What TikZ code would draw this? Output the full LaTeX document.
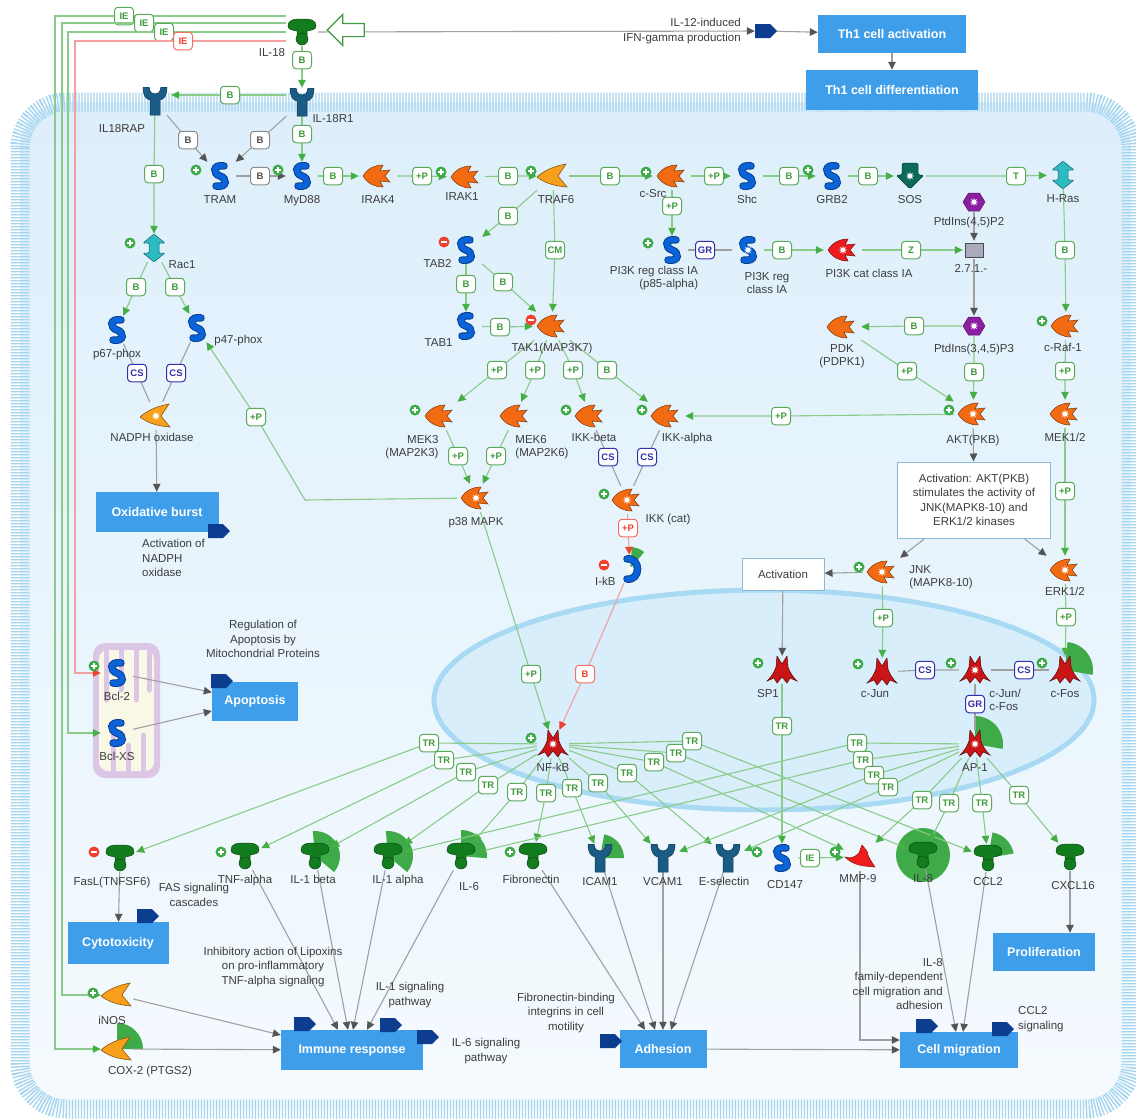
\documentclass[tikz,border=0pt]{standalone}
\usepackage{fontspec}
\setmainfont{Liberation Sans}
\usepackage{tikz}
\usetikzlibrary{arrows.meta,positioning,shapes.arrows,calc}

\definecolor{kinorange}{HTML}{F26B12}
\definecolor{ligorange}{HTML}{F8A01C}
\definecolor{protblue}{HTML}{0B63DA}
\definecolor{recblue}{HTML}{1B5C86}
\definecolor{ligreen}{HTML}{127C1E}
\definecolor{gtpteal}{HTML}{2DBAC0}
\definecolor{sosgreen}{HTML}{0C6A5A}
\definecolor{lipidpurple}{HTML}{8C1EA2}
\definecolor{enzgrey}{HTML}{A9AABE}
\definecolor{tfred}{HTML}{C91515}
\definecolor{protred}{HTML}{EE1C1C}
\definecolor{procblue}{HTML}{3E9EEA}
\definecolor{tagnavy}{HTML}{0D3D8E}
\definecolor{edgegreen}{HTML}{8ACB8A}
\definecolor{tipgreen}{HTML}{45AE45}
\definecolor{labgreen}{HTML}{3E9B3E}
\definecolor{edgegrey}{HTML}{A0A0A0}
\definecolor{tipgrey}{HTML}{555555}
\definecolor{edgered}{HTML}{F3A0A0}
\definecolor{tipred}{HTML}{F0402E}
\definecolor{cplxblue}{HTML}{3030A8}
\definecolor{textgrey}{HTML}{3C3C3C}
\definecolor{cellblue}{HTML}{DDEFFB}
\definecolor{membrane}{HTML}{A6D5F0}
\definecolor{nucblue}{HTML}{A8DAF3}
\definecolor{wedgegreen}{HTML}{3FAA48}
\definecolor{mitolilac}{HTML}{DCC6E6}
\definecolor{mitocream}{HTML}{F9F7E6}
\definecolor{boxedge}{HTML}{8DB8D6}

\pgfdeclarelayer{bg}
\pgfdeclarelayer{edges}
\pgfsetlayers{bg,edges,main}

% glyphs, drawn inside the (invisible) node box with path picture
\newcommand\burst{%
  \fill[white] (0:4.2pt) \foreach \a in {45,90,...,315}{ -- (\a-22.5:1.9pt) -- (\a:4.2pt)} -- (337.5:1.9pt) -- cycle;}
\newcommand\kinaseglyph[2]{%
  \begin{scope}[shift={(path picture bounding box.center)}, scale=1.2]
    \filldraw[fill=#1, draw=#1!50!black, line width=.5pt]
      (-15,0) .. controls (-10,-8) and (-3,-11) .. (5,-11) -- (2,-5) -- (12,-6)
      -- (7,0) -- (12,6) -- (2,5) -- (5,11) .. controls (-3,11) and (-10,8) .. cycle;
    #2
  \end{scope}}
\newcommand\ligaseglyph[1]{%
  \begin{scope}[shift={(path picture bounding box.center)}]
    \filldraw[fill=ligorange, draw=ligorange!55!black, line width=.6pt]
      (-16,1) .. controls (-7,-7) and (3,-10) .. (13,-12) -- (5,0) -- (14,11)
      .. controls (3,10) and (-7,8) .. cycle;
    #1
  \end{scope}}
\newcommand\proteinglyph[1]{%
  \begin{scope}[shift={(path picture bounding box.center)}, line cap=round]
    \draw[protblue!65!black, line width=7.5pt]
      (4,-10) .. controls (-8,-12) and (-7,-2) .. (0,0) .. controls (7,2) and (8,12) .. (-4,10);
    \draw[protblue, line width=5.5pt]
      (4,-10) .. controls (-8,-12) and (-7,-2) .. (0,0) .. controls (7,2) and (8,12) .. (-4,10);
    #1
  \end{scope}}
\newcommand\ikbglyph{%
  \begin{scope}[shift={(path picture bounding box.center)}, line cap=round]
    \draw[protblue!65!black, line width=7.5pt] (-3,-10) .. controls (11,-12) and (11,12) .. (-3,10);
    \draw[protblue, line width=5.5pt] (-3,-10) .. controls (11,-12) and (11,12) .. (-3,10);
    \begin{scope}[shift={(4,0)}]\burst\end{scope}
  \end{scope}}
\newcommand\receptorglyph{%
  \begin{scope}[shift={(path picture bounding box.center)}]
    \filldraw[fill=recblue, draw=recblue!60!black, line width=.5pt]
      (-12,-14) -- (-6,-14) .. controls (-5,-8) and (-3,-7) .. (0,-7) .. controls (3,-7) and (5,-8) .. (6,-14)
      -- (12,-14) .. controls (12,-5) and (9,-2) .. (5,-1) -- (5,14) -- (-5,14) -- (-5,-1)
      .. controls (-9,-2) and (-12,-5) .. cycle;
  \end{scope}}
\newcommand\ligandglyph{%
  \begin{scope}[shift={(path picture bounding box.center)}]
    \filldraw[fill=ligreen, draw=ligreen!60!black, line width=.5pt]
      (-14,-6) .. controls (-14,-12) and (-9,-13) .. (0,-13) .. controls (9,-13) and (14,-12) .. (14,-6)
      .. controls (14,-2) and (9,-2) .. (5,-1) -- (5,3) -- (-5,3) -- (-5,-1)
      .. controls (-9,-2) and (-14,-2) .. cycle;
    \filldraw[fill=ligreen, draw=ligreen!60!black, line width=.5pt] (0,7) circle[radius=6pt];
  \end{scope}}
\newcommand\gtpglyph{%
  \begin{scope}[shift={(path picture bounding box.center)}]
    \filldraw[fill=gtpteal, draw=gtpteal!55!black, line width=.5pt, rounded corners=1pt]
      (0,-14) -- (11,-5) -- (5,-5) -- (5,5) -- (11,5) -- (0,14) -- (-11,5) -- (-5,5) -- (-5,-5) -- (-11,-5) -- cycle;
  \end{scope}}
\newcommand\sosglyph{%
  \begin{scope}[shift={(path picture bounding box.center)}]
    \filldraw[fill=sosgreen, draw=sosgreen!60!black, line width=.5pt, rounded corners=1.5pt]
      (-8,-13) -- (8,-13) -- (8,-1) -- (14,-1) -- (0,13) -- (-14,-1) -- (-8,-1) -- cycle;
    \begin{scope}[shift={(0,-3)}]\burst\end{scope}
  \end{scope}}
\newcommand\lipidglyph{%
  \begin{scope}[shift={(path picture bounding box.center)}]
    \filldraw[fill=lipidpurple, draw=lipidpurple!60!black, line width=.5pt]
      (-11,0) -- (-5.5,-9) -- (5.5,-9) -- (11,0) -- (5.5,9) -- (-5.5,9) -- cycle;
    \burst
  \end{scope}}
\newcommand\squareglyph{%
  \begin{scope}[shift={(path picture bounding box.center)}]
    \filldraw[fill=enzgrey, draw=black!70, line width=.7pt] (-9,-7) rectangle (9,7);
  \end{scope}}
\newcommand\tfglyph[1]{%
  \begin{scope}[shift={(path picture bounding box.center)}]
    \filldraw[fill=tfred, draw=tfred!45!black, line width=.5pt]
      (-5,-14) -- (0,-6) -- (5,-14) -- (6,-3) .. controls (8,3) and (11,7) .. (15,11) -- (8,8) -- (5,13)
      -- (0,7) -- (-5,13) -- (-8,8) -- (-15,11) .. controls (-11,7) and (-8,3) .. (-6,-3) -- cycle;
    \begin{scope}[shift={(0,1)}]#1\end{scope}
  \end{scope}}
\newcommand\proteaseglyph{%
  \begin{scope}[shift={(path picture bounding box.center)}]
    \filldraw[fill=protred, draw=protred!60!black, line width=.5pt]
      (-15,0) .. controls (-9,2) and (-5,0) .. (-1,-4) -- (2,-12) .. controls (5,-8) and (8,-6) .. (8,-2)
      .. controls (10,3) and (13,7) .. (15,10) .. controls (4,9) and (-6,9) .. cycle;
  \end{scope}}
\newcommand\tagglyph{%
  \begin{scope}[shift={(path picture bounding box.center)}]
    \fill[tagnavy] (-11,-7) -- (4,-7) -- (11,0) -- (4,7) -- (-11,7) -- cycle;
  \end{scope}}

\begin{document}
\begin{tikzpicture}[x=1pt, y=-1pt,
  font=\fontsize{11.5}{13}\selectfont,
  every label/.style={text=textgrey, inner sep=1pt},
  label distance=4pt,
  mol/.style={minimum width=32pt, minimum height=28pt, inner sep=0pt},
  ligand/.style={mol, path picture={\ligandglyph}},
  receptor/.style={mol, path picture={\receptorglyph}},
  protein/.style={mol, path picture={\proteinglyph{}}},
  proteinstar/.style={mol, path picture={\proteinglyph{\burst}}},
  inhibitor/.style={mol, path picture={\ikbglyph}},
  kinase/.style={mol, minimum width=38pt, path picture={\kinaseglyph{kinorange}{}}},
  kinasestar/.style={mol, minimum width=38pt, path picture={\kinaseglyph{kinorange}{\burst}}},
  kinasered/.style={mol, minimum width=38pt, path picture={\kinaseglyph{protred}{\burst}}},
  ligase/.style={mol, path picture={\ligaseglyph{}}},
  ligasestar/.style={mol, path picture={\ligaseglyph{\burst}}},
  gtpase/.style={mol, path picture={\gtpglyph}},
  gef/.style={mol, path picture={\sosglyph}},
  lipid/.style={mol, minimum width=24pt, minimum height=20pt, path picture={\lipidglyph}},
  enzyme/.style={mol, minimum width=22pt, minimum height=18pt, path picture={\squareglyph}},
  tf/.style={mol, path picture={\tfglyph{}}},
  tfstar/.style={mol, path picture={\tfglyph{\burst}}},
  protease/.style={mol, path picture={\proteaseglyph}},
  tag/.style={minimum width=22pt, minimum height=16pt, inner sep=0pt, path picture={\tagglyph}},
  gline/.style={draw=edgegreen, line width=1.1pt},
  gact/.style={gline, -{Triangle[length=8pt, width=7.5pt, color=tipgreen]}},
  yline/.style={draw=edgegrey, line width=1.1pt},
  yact/.style={yline, -{Triangle[length=8pt, width=7.5pt, color=tipgrey]}},
  ract/.style={draw=edgered, line width=1.1pt, -{Triangle[length=8pt, width=7.5pt, color=tipred]}},
  lb/.style={draw=labgreen!85, fill=white, line width=1pt, rounded corners=3.5pt,
    text=labgreen, font=\bfseries\fontsize{9.5}{10}\selectfont,
    minimum width=19pt, minimum height=17.5pt, inner sep=1pt},
  lbgrey/.style={lb, draw=black!45, text=black!70},
  lbred/.style={lb, draw=tipred!75, text=tipred},
  lbcplx/.style={lb, draw=cplxblue, text=cplxblue},
  procbox/.style={fill=procblue, text=white, font=\bfseries\fontsize{12.5}{14}\selectfont, inner sep=0pt},
  infobox/.style={draw=boxedge, fill=white, line width=1pt, align=center, text=textgrey,
    font=\fontsize{11.5}{14.5}\selectfont},
  note/.style={text=textgrey, align=center, font=\fontsize{11.5}{14.5}\selectfont, inner sep=0pt},
  actmark/.pic={\fill[wedgegreen] (0,0) circle[radius=5.5pt];
    \draw[white, line width=1.1pt] (-3pt,0) -- (3pt,0) (0,-3pt) -- (0,3pt);},
  inhmark/.pic={\fill[tipred] (0,0) circle[radius=5.5pt];
    \draw[white, line width=1.3pt] (-3pt,0) -- (3pt,0);}
]
\useasboundingbox (0,0) rectangle (1136,1119);

% ---------------- IL-18 and the Th1 branch ----------------
\node[ligand, label={[xshift=-30pt,yshift=3pt]below:IL-18}] (il18) at (302,32) {};
\node[single arrow, shape border rotate=180, draw=labgreen, fill=white, line width=1.2pt,
  minimum height=37pt, inner sep=6pt, single arrow head extend=9pt] (inflow) at (349,30) {};
\node[tag] (tagil) at (766,31) {};
\node[note, align=right, anchor=east] (il12note) at (741,31) {IL-12-induced\\IFN-gamma production};
\node[procbox, minimum width=148pt, minimum height=38pt] (th1act) at (892,34) {Th1 cell activation};
\node[procbox, minimum width=172pt, minimum height=40pt] (th1dif) at (892,90) {Th1 cell differentiation};

% ---------------- receptors and adaptors ----------------
\node[receptor, label={[xshift=31pt,yshift=7pt]below:IL-18R1}] (il18r1) at (302,102) {};
\node[receptor, label={[xshift=-33pt,yshift=-4pt]below:IL18RAP}] (il18rap) at (155,101) {};
\node[protein, label=below:TRAM] (tram) at (220,176) {};
\node[protein, label=below:MyD88] (myd88) at (302,176) {};
\node[kinase, label=below:IRAK4] (irak4) at (378,176) {};
\node[kinase, label={[xshift=-4pt,yshift=4pt]below:IRAK1}] (irak1) at (466,177) {};
\node[ligase, label={[xshift=3pt]below:TRAF6}] (traf6) at (553,176) {};
\node[kinase, label={[xshift=-19pt,yshift=6pt]below:c-Src}] (csrc) at (672,176) {};
\node[protein, label=below:Shc] (shc) at (747,176) {};
\node[protein, label=below:GRB2] (grb2) at (832,176) {};
\node[gef, label=below:SOS] (sos) at (910,176) {};
\node[gtpase, label=below:H-Ras] (hras) at (1063,175) {};

% ---------------- PI3K / AKT ----------------
\node[protein, label={[align=right,xshift=-18pt,yshift=3pt]below:PI3K reg class IA\\(p85-alpha)}] (pi3kreg) at (672,250) {};
\node[proteinstar, label={[align=center,xshift=19pt,yshift=-3pt]below:PI3K reg\\class IA}] (pi3kreg2) at (748,250) {};
\node[kinasered, label={[xshift=26pt]below:PI3K cat class IA}] (pi3kcat) at (843,250) {};
\node[lipid, label={[xshift=-5pt]below:PtdIns(4,5)P2}] (pip2) at (974,202) {};
\node[enzyme, label={[xshift=-3pt]below:2.7.1.-}] (ek) at (974,250) {};
\node[lipid, label={[yshift=-3pt]below:PtdIns(3,4,5)P3}] (pip3) at (974,326) {};
\node[kinase, label={[align=center,yshift=2pt]below:PDK\\(PDPK1)}] (pdk) at (842,327) {};
\node[kinase, label={[xshift=-3pt,yshift=2pt]below:c-Raf-1}] (craf) at (1066,326) {};
\node[kinasestar, label={[yshift=-2pt]below:AKT(PKB)}] (akt) at (973,414) {};
\node[kinasestar, label=below:MEK1/2] (mek12) at (1065,414) {};
\node[infobox, minimum width=153pt, minimum height=76pt] (akttext) at (974,500)
  {Activation: AKT(PKB)\\stimulates the activity of\\JNK(MAPK8-10) and\\ERK1/2 kinases};
\node[kinasestar, label={[align=left,xshift=3pt,yshift=-5pt]right:JNK\\(MAPK8-10)}] (jnk) at (882,572) {};
\node[kinasestar, label={[yshift=2pt]below:ERK1/2}] (erk) at (1065,570) {};
\node[infobox, minimum width=82pt, minimum height=32pt] (actbox) at (783,574) {Activation};

% ---------------- TAK1 / IKK / p38 ----------------
\node[protein, label={[xshift=7pt,yshift=-13pt]left:TAB2}] (tab2) at (466,250) {};
\node[protein, label={[xshift=8pt,yshift=-17pt]left:TAB1}] (tab1) at (466,326) {};
\node[kinase, label={[yshift=2pt]below:TAK1(MAP3K7)}] (tak1) at (552,326) {};
\node[kinase, label={[align=right,xshift=-28pt]below:MEK3\\(MAP2K3)}] (mek3) at (440,416) {};
\node[kinase, label={[align=left,xshift=27pt]below:MEK6\\(MAP2K6)}] (mek6) at (515,416) {};
\node[kinase, label={[xshift=4pt,yshift=2pt]below:IKK-beta}] (ikkb) at (590,416) {};
\node[kinase, label={[xshift=21pt,yshift=2pt]below:IKK-alpha}] (ikka) at (666,416) {};
\node[kinasestar, label=below:p38 MAPK] (p38) at (476,498) {};
\node[kinasestar, label={[xshift=41pt,yshift=5pt]below:IKK (cat)}] (ikkc) at (627,500) {};
\node[inhibitor, label={[xshift=7pt,yshift=-12pt]left:I-kB}] (ikb) at (630,569) {};

% ---------------- Rac1 / NADPH oxidase ----------------
\node[gtpase, label={[xshift=28pt,yshift=7pt]below:Rac1}] (rac1) at (154,248) {};
\node[protein, label=below:p67-phox] (p67) at (117,330) {};
\node[protein, label={[xshift=-4pt,yshift=-13pt]right:p47-phox}] (p47) at (197,328) {};
\node[ligasestar, label={[xshift=-4pt,yshift=2pt]below:NADPH oxidase}] (nadph) at (156,416) {};
\node[procbox, minimum width=123pt, minimum height=40pt] (oxb) at (157,512) {Oxidative burst};
\node[tag] (tagox) at (219,531) {};
\node[note, align=left, anchor=north west] (oxnote) at (142,539) {Activation of\\NADPH\\oxidase};

% ---------------- mitochondrion ----------------
\node[protein, label=below:Bcl-2] (bcl2) at (117,673) {};
\node[protein, label=below:Bcl-XS] (bclxs) at (117,733) {};
\node[procbox, minimum width=86pt, minimum height=39pt] (apop) at (255,701) {Apoptosis};
\node[tag] (tagap) at (222,681) {};
\node[note] (apnote) at (263,639) {Regulation of\\Apoptosis by\\Mitochondrial Proteins};

% ---------------- nucleus ----------------
\node[tf, label={[xshift=-14pt]below:SP1}] (sp1) at (782,670) {};
\node[tf, label={[xshift=-7pt,yshift=2pt]below:c-Jun}] (cjun) at (882,672) {};
\node[tfstar, label={[align=left,xshift=-7pt,yshift=-30pt]right:c-Jun/\\c-Fos}] (cjf) at (975,670) {};
\node[tf, label=below:c-Fos] (cfos) at (1065,670) {};
\node[tfstar, label=below:AP-1] (ap1) at (975,744) {};
\node[tfstar, label=below:NF-kB] (nfkb) at (553,744) {};

% ---------------- target genes ----------------
\node[ligand, label={[xshift=-8pt]below:FasL(TNFSF6)}] (fasl) at (120,858) {};
\node[ligand, label=below:TNF-alpha] (tnfa) at (245,856) {};
\node[ligand, label={[xshift=-2pt]below:IL-1 beta}] (il1b) at (315,856) {};
\node[ligand, label={[xshift=10pt]below:IL-1 alpha}] (il1a) at (388,856) {};
\node[ligand, label={[xshift=8pt,yshift=-7pt]below:IL-6}] (il6) at (461,856) {};
\node[ligand, label={[xshift=-2pt]below:Fibronectin}] (fn) at (533,856) {};
\node[receptor, label=below:ICAM1] (icam) at (600,858) {};
\node[receptor, label=below:VCAM1] (vcam) at (663,858) {};
\node[receptor, label={[xshift=-4pt]below:E-selectin}] (esel) at (728,858) {};
\node[protein, label={[xshift=3pt,yshift=-3pt]below:CD147}] (cd147) at (782,858) {};
\node[protease, label={[xshift=-2pt,yshift=2pt]below:MMP-9}] (mmp9) at (860,857) {};
\node[ligand, label=below:IL-8] (il8) at (923,855) {};
\node[ligand, label=below:CCL2] (ccl2) at (988,858) {};
\node[ligand, label={[xshift=3pt,yshift=-5pt]below:CXCL16}] (cxcl16) at (1070,857) {};
\node[ligase, label={[xshift=-5pt,yshift=-2pt]below:iNOS}] (inos) at (117,995) {};
\node[ligase, label={[xshift=33pt,yshift=2pt]below:COX-2 (PTGS2)}] (cox2) at (117,1049) {};

% ---------------- cell processes ----------------
\node[procbox, minimum width=101pt, minimum height=42pt] (cytox) at (118,943) {Cytotoxicity};
\node[procbox, minimum width=142pt, minimum height=40pt] (immune) at (352,1050) {Immune response};
\node[procbox, minimum width=87pt, minimum height=38pt] (adhes) at (663,1049) {Adhesion};
\node[procbox, minimum width=118pt, minimum height=36pt] (cellmig) at (959,1050) {Cell migration};
\node[procbox, minimum width=102pt, minimum height=38pt] (prolif) at (1044,952) {Proliferation};
\node[tag] (tagcy) at (148,916) {};
\node[tag] (tagim1) at (305,1024) {};
\node[tag] (tagim2) at (391,1025) {};
\node[tag] (tagim3) at (428,1037) {};
\node[tag] (tagad) at (611,1041) {};
\node[tag] (tagcm1) at (927,1026) {};
\node[tag] (tagcm2) at (1003,1029) {};
\node[note] (fasnote) at (194,895) {FAS signaling\\cascades};
\node[note] (lipnote) at (273,967) {Inhibitory action of Lipoxins\\on pro-inflammatory\\TNF-alpha signaling};
\node[note] (il1note) at (410,995) {IL-1 signaling\\pathway};
\node[note] (il6note) at (486,1051) {IL-6 signaling\\pathway};
\node[note] (fnnote) at (566,1013) {Fibronectin-binding\\integrins in cell\\motility};
\node[note, align=right, anchor=east] (il8note) at (943,984) {IL-8\\family-dependent\\cell migration and\\adhesion};
\node[note, align=left, anchor=west] (cclnote) at (1018,1019) {CCL2\\signaling};

% activation / inhibition marks
\foreach \p in {(196,170),(278,170),(130,243),(441,172),(531,171),(646,172),(808,170),(648,243),
  (1042,321),(949,410),(415,410),(566,410),(642,410),(604,494),(859,567),(758,663),(858,664),
  (951,663),(1042,663),(531,738),(94,666),(93,993),(221,852),(510,852),(757,852),(835,852)}
  \pic at \p {actmark};
\foreach \p in {(444,242),(531,320),(604,565),(94,852)}
  \pic at \p {inhmark};

\begin{pgfonlayer}{edges}
% IL-18 signalling
\draw[yact] (il18) -- (tagil);
\draw[yact] (tagil) -- (th1act);
\draw[yact] (th1act) -- (th1dif);
\draw[gact] ([yshift=16pt]il18.west) -- (124,16) node[lb]{IE} -- (55,16) |- (cox2);
\draw[gact] ([yshift=9pt]il18.west) -- (144,23) node[lb]{IE} -- (62,23) |- (inos);
\draw[gact] (il18.west) -- (164,32) node[lb]{IE} -- (68,32) |- (bclxs);
\draw[ract] ([yshift=-9pt]il18.west) -- (183,41) node[lbred]{IE} -- (75,41) |- (bcl2);
\draw[gact] (il18) -- (302,60) node[lb]{B} -- (il18r1);
\draw[gact] ([yshift=7pt]il18r1.west) -- (230,95) node[lb]{B} -- ([yshift=6pt]il18rap.east);
\draw[yact] (il18rap) -- (188,140) node[lbgrey]{B} -- (tram);
\draw[yact] (il18r1) -- (260,140) node[lbgrey]{B} -- (tram);
\draw[yact] (tram) -- (260,176) node[lbgrey]{B} -- (myd88);
\draw[gact] (il18r1) -- (302,134) node[lb]{B} -- (myd88);
\draw[gact] (myd88) -- (333,176) node[lb]{B} -- (irak4);
\draw[gact] (irak4) -- (422,176) node[lb]{+P} -- (irak1);
\draw[gact] (irak1) -- (508,176) node[lb]{B} -- (traf6);
\draw[gact] (traf6) -- (610,176) node[lb]{B} -- (csrc);
\draw[gact] (csrc) -- (714,176) node[lb]{+P} -- (shc);
\draw[gact] (shc) -- (789,176) node[lb]{B} -- (grb2);
\draw[gact] (grb2) -- (868,176) node[lb]{B} -- (sos);
\draw[gact] (sos) -- (1016,176) node[lb]{T} -- (hras);
% PI3K / AKT
\draw[gact] (csrc) -- (672,206) node[lb]{+P} -- (pi3kreg);
\draw[yline] (pi3kreg) -- (705,250) node[lbcplx]{GR} -- (pi3kreg2);
\draw[gact] (pi3kreg2) -- (782,250) node[lb]{B} -- (pi3kcat);
\draw[gact] (pi3kcat) -- (911,250) node[lb]{Z} -- (ek);
\draw[yact] (pip2) -- (ek);
\draw[yact] (ek) -- (pip3);
\draw[gact] (pip3) -- (914,326) node[lb]{B} -- (pdk);
\draw[gact] (hras) -- (1065,250) node[lb]{B} -- (craf);
\draw[gact] (pdk) -- (907,371) node[lb]{+P} -- (akt);
\draw[gact] (pip3) -- (974,372) node[lb]{B} -- (akt);
\draw[gact] (craf) -- (1065,371) node[lb]{+P} -- (mek12);
\draw[gact] (akt) -- (781,416) node[lb]{+P} -- (ikka);
\draw[yact] (akt) -- (akttext);
\draw[yact] (akttext) -- (jnk);
\draw[yact] (akttext) -- (erk);
\draw[gact] (mek12) -- (1065,491) node[lb]{+P} -- (erk);
\draw[yact] (jnk) -- (actbox);
\draw[yact] (actbox) -- (sp1);
\draw[gact] (jnk) -- (883,618) node[lb]{+P} -- (cjun);
\draw[gact] (erk) -- (1066,617) node[lb]{+P} -- (cfos);
\draw[yline] (cjun) -- (925,670) node[lbcplx]{CS} -- (cjf);
\draw[yline] (cfos) -- (1024,670) node[lbcplx]{CS} -- (cjf);
\draw[yline] (cjf) -- (975,704) node[lbcplx]{GR} -- (ap1);
% TAK1 / IKK / p38
\draw[gact] (traf6) -- (508,216) node[lb]{B} -- (tab2);
\draw[gact] (traf6) -- (555,250) node[lb]{CM} -- (tak1);
\draw[gact] (tab2) -- (466,284) node[lb]{B} -- (tab1);
\draw[gact] (tab2) -- (503,282) node[lb]{B} -- (tak1);
\draw[gact] (tab1) -- (500,327) node[lb]{B} -- (tak1);
\draw[gact] (tak1) -- (497,370) node[lb]{+P} -- (mek3);
\draw[gact] (tak1) -- (535,370) node[lb]{+P} -- (mek6);
\draw[gact] (tak1) -- (573,370) node[lb]{+P} -- (ikkb);
\draw[gact] (tak1) -- (607,370) node[lb]{B} -- (ikka);
\draw[gact] (mek3) -- (458,456) node[lb]{+P} -- (p38);
\draw[gact] (mek6) -- (496,456) node[lb]{+P} -- (p38);
\draw[yline] (ikkb) -- (608,457) node[lbcplx]{CS} -- (ikkc);
\draw[yline] (ikka) -- (647,457) node[lbcplx]{CS} -- (ikkc);
\draw[ract] (ikkc) -- (628,528) node[lbred]{+P} -- (ikb);
\draw[ract] (ikb) -- (585,674) node[lbred]{B} -- (nfkb);
\draw[gact] (p38) -- (531,674) node[lb]{+P} -- (nfkb);
\draw[gact] (p38) -- (305,500) -- (256,417) node[lb]{+P} -- (p47);
% Rac1 / NADPH oxidase
\draw[gact] (il18rap) -- (154,174) node[lb]{B} -- (rac1);
\draw[gact] (rac1) -- (136,287) node[lb]{B} -- (p67);
\draw[gact] (rac1) -- (175,287) node[lb]{B} -- (p47);
\draw[yline] (p67) -- (137,373) node[lbcplx]{CS} -- (nadph);
\draw[yline] (p47) -- (176,373) node[lbcplx]{CS} -- (nadph);
\draw[yact] (nadph) -- (oxb);
\draw[yact] (bcl2) -- (apop);
\draw[yact] (bclxs) -- (apop);
% transcription
\draw[gact] (sp1) -- (782,726) node[lb]{TR} -- (cd147);
\draw[gact] (cd147) -- (810,858) node[lb]{IE} -- (mmp9);
\draw[gact] (nfkb) -- (429,743) node[lb]{TR} -- (fasl);
\draw[gact] (nfkb) -- (444,760) node[lb]{TR} -- (tnfa);
\draw[gact] (nfkb) -- (466,772) node[lb]{TR} -- (il1b);
\draw[gact] (nfkb) -- (488,785) node[lb]{TR} -- (il1a);
\draw[gact] (nfkb) -- (517,792) node[lb]{TR} -- (il6);
\draw[gact] (nfkb) -- (546,793) node[lb]{TR} -- (fn);
\draw[gact] (nfkb) -- (572,788) node[lb]{TR} -- (icam);
\draw[gact] (nfkb) -- (598,783) node[lb]{TR} -- (vcam);
\draw[gact] (nfkb) -- (627,773) node[lb]{TR} -- (esel);
\draw[gact] (nfkb) -- (654,762) node[lb]{TR} -- (mmp9);
\draw[gact] (nfkb) -- (676,753) node[lb]{TR} -- (il8);
\draw[gact] (nfkb) -- (692,741) node[lb]{TR} -- (ccl2);
\draw[gact] (ap1) -- (857,743) node[lb]{TR} -- (il1a);
\draw[gact] (ap1) -- (863,760) node[lb]{TR} -- (il6);
\draw[gact] (ap1) -- (874,775) node[lb]{TR} -- (vcam);
\draw[gact] (ap1) -- (888,787) node[lb]{TR} -- (esel);
\draw[gact] (ap1) -- (922,800) node[lb]{TR} -- (mmp9);
\draw[gact] (ap1) -- (949,803) node[lb]{TR} -- (il8);
\draw[gact] (ap1) -- (982,803) node[lb]{TR} -- (ccl2);
\draw[gact] (ap1) -- (1019,795) node[lb]{TR} -- (cxcl16);
% outputs
\draw[yact] (fasl) -- (cytox);
\draw[yact] (tnfa) -- ([xshift=-14pt]immune.north);
\draw[yact] (il1b) -- ([xshift=-4pt]immune.north);
\draw[yact] (il1a) -- ([xshift=1pt]immune.north);
\draw[yact] (il6) -- ([xshift=15pt]immune.north);
\draw[yact] (inos) -- ([yshift=15pt]immune.west);
\draw[yact] (cox2) -- (immune);
\draw[yact] (fn) -- ([xshift=-18pt]adhes.north);
\draw[yact] (icam) -- ([xshift=-8pt]adhes.north);
\draw[yact] (vcam) -- (adhes.north);
\draw[yact] (esel) -- ([xshift=8pt]adhes.north);
\draw[yact] (adhes) -- (cellmig);
\draw[yact] (mmp9) |- ([yshift=10pt]cellmig.west);
\draw[yact] (il8) -- ([xshift=-3pt]cellmig.north);
\draw[yact] (ccl2) -- ([xshift=4pt]cellmig.north);
\draw[yact] (cxcl16) -- (cxcl16 |- prolif.north);
\end{pgfonlayer}

% ---------------- cell, nucleus, mitochondrion ----------------
\begin{pgfonlayer}{bg}
\fill[white] (0,0) rectangle (1136,1119);
\begin{scope}
  \clip (0,0) rectangle (1136,1119);
  \shade[top color=cellblue, bottom color=cellblue!30, rounded corners=46pt] (20,102) rectangle (1131,1109);
  \draw[membrane, line width=19pt, dash pattern=on 1.4pt off 1.6pt, rounded corners=46pt] (20,102) rectangle (1131,1109);
\end{scope}
\filldraw[fill=nucblue!45, draw=nucblue, line width=5pt] (764,700) ellipse[x radius=330pt, y radius=110pt];
\fill[mitolilac, rounded corners=12pt] (93,643) rectangle (160,778);
\fill[mitocream, rounded corners=9pt] (99,650) rectangle (154,771);
\draw[mitolilac, line width=5pt, line cap=round] (106,648) -- (106,700) (121,648) -- (121,690)
  (136,648) -- (136,700) (149,648) -- (149,690) (113,773) -- (113,735) (128,773) -- (128,745) (143,773) -- (143,735);
% green state wedges
\fill[wedgegreen] (il1b.center) -- ++(-40:25pt) arc[start angle=-40, end angle=95, radius=25pt] -- cycle;
\fill[wedgegreen] (il1a.center) -- ++(-40:25pt) arc[start angle=-40, end angle=95, radius=25pt] -- cycle;
\fill[wedgegreen] (il6.center) -- ++(-5:26pt) arc[start angle=-5, end angle=90, radius=26pt] -- cycle;
\fill[wedgegreen] (icam.center) -- ++(0:24pt) arc[start angle=0, end angle=80, radius=24pt] -- cycle;
\fill[wedgegreen] (ccl2.center) -- ++(10:26pt) arc[start angle=10, end angle=80, radius=26pt] -- cycle;
\fill[wedgegreen] (cox2.center) -- ++(0:26pt) arc[start angle=0, end angle=90, radius=26pt] -- cycle;
\fill[wedgegreen] (cfos.center) -- ++(-10:28pt) arc[start angle=-10, end angle=85, radius=28pt] -- cycle;
\fill[wedgegreen] (ap1.center) -- ++(-10:28pt) arc[start angle=-10, end angle=90, radius=28pt] -- cycle;
\fill[wedgegreen] (ikb.center) -- ++(50:22pt) arc[start angle=50, end angle=85, radius=22pt] -- cycle;
\fill[wedgegreen] (il8.center) circle[radius=27pt];
\end{pgfonlayer}
\end{tikzpicture}
\end{document}
